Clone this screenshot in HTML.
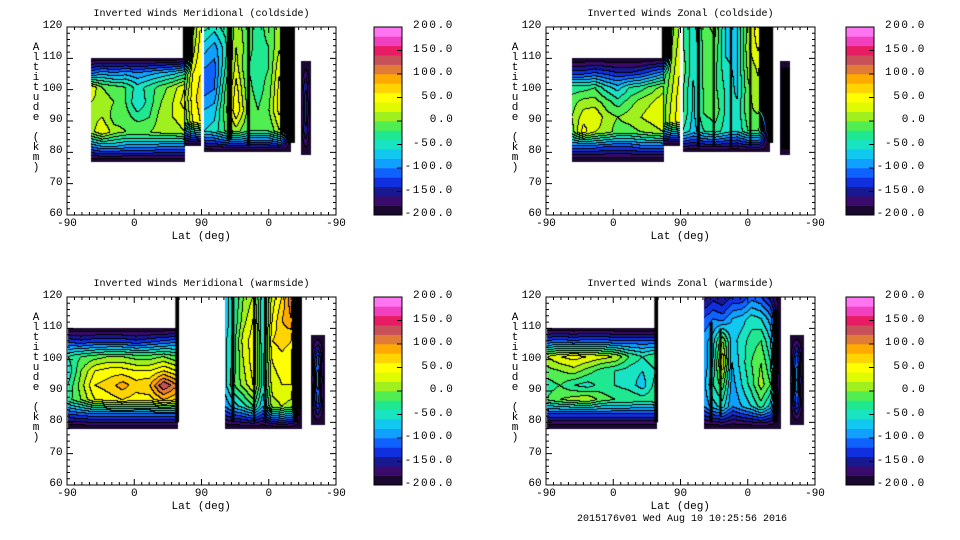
<!DOCTYPE html>
<html><head><meta charset="utf-8">
<style>
body{margin:0;background:#fff;width:960px;height:540px;overflow:hidden;position:relative;font-family:"Liberation Mono",monospace;color:#000}
.t{position:absolute;font-size:10px;white-space:pre;line-height:10px}
.lbl{position:absolute;font-size:11px;line-height:11px;white-space:pre}
canvas{position:absolute}
.ylab{position:absolute;font-size:11px;line-height:10px;width:10px;text-align:center;white-space:pre}
</style></head><body>
<script>
// ---- data ----
const levels = [-200,-180,-160,-140,-120,-100,-80,-60,-40,-20,0,20,40,60,80,100,120,140,160,180,200];
const colors = ["#1a0830","#3a0a6c","#181890","#1030e0","#1062ff","#10a0ff","#10c8f0","#18e4c4","#20e890","#50ee50","#a0f020","#e0fa00","#ffff00","#ffd400","#ffaa00","#e07c38","#c85058","#e81c64","#f040c0","#ff74f0"];
const cbLabels = ["200.0","150.0","100.0","50.0","0.0","-50.0","-100.0","-150.0","-200.0"];
const cbValues = [200,150,100,50,0,-50,-100,-150,-200];
const xTickLabels = ["-90","0","90","0","-90"];
const xTickValues = [0,90,180,270,360];
const yTickValues = [60,70,80,90,100,110,120];

// region bounds: [uStart,uEnd,altBottom,altTop]
const tlBoundsA=[32,158,77,110], tlBoundsB=[158,179,82,120], tlBoundsC=[183,300,80,120], tlBoundsD=[313,327,79,109];
const tlGridA=[
[-200,-200,-200,-200,-200,-200,-200,-200,-200],
[-110,-90,-100,-90,-100,-90,-80,-70,-50],
[40,0,-10,-20,-50,-30,-10,10,40],
[20,10,0,-20,-60,-30,0,20,50],
[10,20,-10,-10,-30,-20,10,20,30],
[10,40,10,0,0,0,10,10,20],
[-100,-80,-80,-90,-90,-90,-100,-100,-100],
[-200,-200,-200,-200,-200,-200,-200,-200,-200]];
const tlGridB=[[-200,-10,40],[-200,10,50],[-30,40,60],[0,50,70],[-20,40,60],[-200,-200,-200]];
const tlGridC=[
[-30,-50,-30,10,-10,-30,-10,10,-200],
[-70,-90,-50,20,-10,-30,-20,20,-200],
[-100,-110,-40,30,-20,-30,-20,40,-200],
[-110,-100,-20,50,-10,-30,-10,50,-200],
[-80,-70,-10,60,0,-20,0,50,-200],
[-60,-50,-20,10,-20,-20,-20,20,-200],
[-200,-200,-200,-200,-200,-200,-200,-200,-200]];
const tlGridD=[[-200,-200,-200],[-200,-140,-200],[-200,-120,-200],[-200,-140,-200],[-200,-200,-200]];
const tlBlack=[[155,169,110,120],[214,221,84,120],[241,245,82,120],[294,305,83,120]];

const trBoundsA=[35,158,77,110], trBoundsB=[158,179,82,120], trBoundsC=[183,300,80,120], trBoundsD=[313,327,79,109];
const trGridA=[
[-200,-200,-200,-200,-200,-200,-200,-200,-200],
[-130,-130,-120,-130,-140,-140,-130,-110,-90],
[-30,-30,-20,-50,-70,-40,-30,-10,10],
[-10,10,10,-10,-30,-10,10,20,40],
[0,30,40,10,0,10,20,30,40],
[-10,50,20,10,-10,-10,0,10,20],
[-110,-110,-110,-120,-120,-120,-110,-110,-110],
[-200,-200,-200,-200,-200,-200,-200,-200,-200]];
const trGridB=[[-200,-10,20],[-200,0,30],[-30,10,40],[-10,20,50],[-10,30,50],[-200,-200,-200]];
const trGridC=[
[-15,-55,-5,5,-65,-65,5,65,-200],
[-15,-55,-15,-5,-65,-65,15,45,-200],
[-5,-55,-15,-15,-55,-65,5,25,-200],
[-15,-65,-15,-15,-45,-65,-5,15,-200],
[-15,-65,-15,-5,-45,-55,-5,5,-200],
[-40,-70,-40,-30,-50,-60,-20,-20,-200],
[-200,-200,-200,-200,-200,-200,-200,-200,-200]];
const trGridD=[[-200,-200,-200],[-200,-200,-200],[-200,-200,-200],[-200,-200,-200],[-200,-200,-200]];
const trBlack=[[155,169,110,120],[202,206,82,120],[223,226,82,120],[246,249,82,120],[272,275,82,120],[297,304,83,120],[315,326,81,107]];

const blBoundsA=[1,148,78,110], blBoundsC=[211,314,78,120], blBoundsD=[327,345,79,108];
const blGridA=[
[-200,-200,-200,-200,-200,-200,-200,-200,-200],
[-120,-130,-120,-120,-120,-130,-120,-110,-100],
[-40,-20,-10,0,0,-10,-10,0,-20],
[-60,0,40,50,50,40,40,60,40],
[-40,10,60,70,90,70,80,140,100],
[-30,0,40,50,60,50,50,80,60],
[-120,-110,-100,-100,-100,-100,-100,-100,-100],
[-200,-200,-200,-200,-200,-200,-200,-200,-200]];
const blGridC=[
[-80,-40,0,20,-60,30,60,120,-200],
[-80,-40,10,40,-60,40,80,100,-200],
[-70,-30,30,50,-60,60,70,60,-200],
[-70,-30,20,50,-50,40,50,40,-200],
[-70,-20,10,40,-50,30,40,40,-200],
[-100,-70,-50,-20,-80,10,20,10,-200],
[-200,-200,-200,-200,-200,-200,-200,-200,-200]];
const blGridD=[[-200,-200,-200,-200,-200],[-200,-150,-110,-150,-200],[-200,-140,-80,-140,-200],[-200,-150,-110,-150,-200],[-200,-200,-200,-200,-200]];
const blBlack=[[145,150,80,120],[220,224,80,120],[249,252,80,120],[264,267,80,120],[303,309,80,120]];

const brBoundsA=[1,148,78,110], brBoundsC=[211,314,78,120], brBoundsD=[327,345,79,108];
const brGridA=[
[-200,-200,-200,-200,-200,-200,-200,-200,-200],
[-110,-100,-110,-100,-100,-110,-110,-110,-110],
[20,40,50,40,30,20,-20,-40,-20],
[-10,0,10,-10,-30,-40,-50,-60,-40],
[-30,-20,-40,-50,-30,-40,-50,-70,-30],
[-20,0,10,20,-10,-20,-20,-30,-20],
[-120,-120,-120,-120,-120,-120,-120,-120,-120],
[-200,-200,-200,-200,-200,-200,-200,-200,-200]];
const brGridC=[
[-170,-150,-160,-140,-140,-110,-120,-150,-200],
[-120,-100,-110,-80,-70,-50,-60,-90,-200],
[-90,-70,0,-70,-50,-30,-20,-60,-200],
[-100,-60,40,-80,-50,-20,0,-40,-200],
[-90,-40,-10,-90,-60,-30,10,-20,-200],
[-100,-70,-50,-100,-80,-60,-30,-70,-200],
[-200,-200,-200,-200,-200,-200,-200,-200,-200]];
const brGridD=[[-200,-200,-200,-200,-200],[-200,-150,-110,-150,-200],[-200,-140,-70,-140,-200],[-200,-150,-110,-150,-200],[-200,-200,-200,-200,-200]];
const brBlack=[[145,150,80,120],[219,223,80,112],[232,235,82,110],[304,310,80,116]];

const panels=[
 {name:"meridional-coldside",title:"Inverted Winds Meridional (coldside)",x:67,y:27,cbx:374,regions:[[tlBoundsA,tlGridA],[tlBoundsB,tlGridB],[tlBoundsC,tlGridC],[tlBoundsD,tlGridD]],black:tlBlack},
 {name:"zonal-coldside",title:"Inverted Winds Zonal (coldside)",x:546,y:27,cbx:846,regions:[[trBoundsA,trGridA],[trBoundsB,trGridB],[trBoundsC,trGridC],[trBoundsD,trGridD]],black:trBlack},
 {name:"meridional-warmside",title:"Inverted Winds Meridional (warmside)",x:67,y:297,cbx:374,regions:[[blBoundsA,blGridA],[blBoundsC,blGridC],[blBoundsD,blGridD]],black:blBlack},
 {name:"zonal-warmside",title:"Inverted Winds Zonal (warmside)",x:546,y:297,cbx:846,regions:[[brBoundsA,brGridA],[brBoundsC,brGridC],[brBoundsD,brGridD]],black:brBlack}
];
const W=269,H=188;
function xs(u){return u*W/360;}
function ys(a){return (120-a)*H/60;}
function uOf(px){return px*360/W;}
function aOf(py){return 120-py*60/H;}
function levelIdx(v){let i=Math.floor((v+200)/20);return Math.max(0,Math.min(19,i));}
function hex(c){return [parseInt(c.substr(1,2),16),parseInt(c.substr(3,2),16),parseInt(c.substr(5,2),16)];}
const rgb=colors.map(hex);

panels.forEach(p=>{
  const d=document.createElement('div');
  d.style.cssText='position:absolute;left:0;top:0';
  
  
  document.body.appendChild(d);
  const t=document.createElement('div');t.className='t';t.textContent=p.title;
  t.style.left=(p.x+W/2-p.title.length*3)+'px';t.style.top=(p.y-17)+'px';
  
  
  d.appendChild(t);
  const cv=document.createElement('canvas');cv.width=W;cv.height=H;
  cv.style.left=p.x+'px';cv.style.top=p.y+'px';
  
  
  d.appendChild(cv);
  const ctx=cv.getContext('2d');
  const lv=new Int16Array(W*H).fill(-1);
  p.regions.forEach(([b,g])=>{
    const nr=g.length,nc=g[0].length;
    for(let py=0;py<H;py++){const a=aOf(py+0.5);if(a<b[2]||a>b[3])continue;
      const fy=(b[3]-a)/(b[3]-b[2])*(nr-1);const r0=Math.min(nr-2,Math.floor(fy)),ty=fy-r0;
      for(let px=0;px<W;px++){const u=uOf(px+0.5);if(u<b[0]||u>b[1])continue;
        const fx=(u-b[0])/(b[1]-b[0])*(nc-1);const c0=Math.min(nc-2,Math.floor(fx)),tx=fx-c0;
        const v=(g[r0][c0]*(1-tx)+g[r0][c0+1]*tx)*(1-ty)+(g[r0+1][c0]*(1-tx)+g[r0+1][c0+1]*tx)*ty;
        lv[py*W+px]=levelIdx(v);}}
  });
  const img=ctx.createImageData(W,H);
  for(let i=0;i<W*H;i++){const L=lv[i];let c=[255,255,255];
    if(L>=0){c=rgb[L];const x=i%W,y=(i/W)|0;
      const rt=x<W-1?lv[i+1]:L, dn=y<H-1?lv[i+W]:L;
      if((rt>=0&&rt!==L)||(dn>=0&&dn!==L))c=[0,0,0];}
    img.data[i*4]=c[0];img.data[i*4+1]=c[1];img.data[i*4+2]=c[2];img.data[i*4+3]=255;}
  ctx.putImageData(img,0,0);
  ctx.fillStyle='#000';
  p.black.forEach(s=>{ctx.fillRect(xs(s[0]),ys(s[3]),xs(s[1])-xs(s[0]),ys(s[2])-ys(s[3]));});
  const ns='http://www.w3.org/2000/svg';
  const sv=document.createElementNS(ns,'svg');
  sv.setAttribute('width',W+2);sv.setAttribute('height',H+2);
  sv.style.cssText='position:absolute;left:'+(p.x-1)+'px;top:'+(p.y-1)+'px;overflow:visible';
  
  
  d.appendChild(sv);
  let path='M1 1H'+(W+1)+'V'+(H+1)+'H1Z';
  for(let u=0;u<=360;u+=10){const x=xs(u)+1,len=(u%90===0)?6:3;path+='M'+x+' '+(H+1)+'v-'+len+'M'+x+' 1v'+len;}
  for(let a=60;a<=120;a+=2){const y=ys(a)+1,len=(a%10===0)?6:3;path+='M1 '+y+'h'+len+'M'+(W+1)+' '+y+'h-'+len;}
  const pe=document.createElementNS(ns,'path');pe.setAttribute('d',path);pe.setAttribute('stroke','#000');pe.setAttribute('fill','none');pe.setAttribute('stroke-width','1');
  
  
  sv.appendChild(pe);
  xTickLabels.forEach((s,i)=>{const l=document.createElement('div');l.className='lbl';l.textContent=s;
    l.style.left=(p.x+xs(xTickValues[i])-s.length*3.3)+'px';l.style.top=(p.y+H+4)+'px';
    
    
    d.appendChild(l);});
  yTickValues.forEach(v=>{const l=document.createElement('div');l.className='lbl';const s=String(v);l.textContent=s;
    l.style.left=(p.x-4-s.length*6.8)+'px';l.style.top=(p.y+ys(v)-6)+'px';
    
    
    d.appendChild(l);});
  const xl=document.createElement('div');xl.className='lbl';xl.textContent='Lat (deg)';
  xl.style.left=(p.x+W/2-30)+'px';xl.style.top=(p.y+H+17)+'px';
  
  
  d.appendChild(xl);
  const yl=document.createElement('div');yl.className='ylab';yl.innerHTML='A<br>l<br>t<br>i<br>t<br>u<br>d<br>e<br>&nbsp;<br>(<br>k<br>m<br>)';
  yl.style.left=(p.x-36)+'px';yl.style.top=(p.y+16)+'px';
  
  
  d.appendChild(yl);
  const cb=document.createElementNS(ns,'svg');cb.setAttribute('width',30);cb.setAttribute('height',H+2);
  cb.style.cssText='position:absolute;left:'+(p.cbx-1)+'px;top:'+(p.y-1)+'px';
  
  
  d.appendChild(cb);
  const bh=H/colors.length;
  colors.forEach((c,i)=>{const r=document.createElementNS(ns,'rect');r.setAttribute('x',1);r.setAttribute('y',1+H-(i+1)*bh);r.setAttribute('width',28);r.setAttribute('height',bh+0.3);r.setAttribute('fill',c);
    
    
    cb.appendChild(r);});
  let cp='M1 1h28v'+H+'h-28Z';
  cbValues.forEach(v=>{const y=1+(200-v)/400*H;cp+='M29 '+y+'h-5';});
  const cpe=document.createElementNS(ns,'path');cpe.setAttribute('d',cp);cpe.setAttribute('stroke','#000');cpe.setAttribute('fill','none');
  
  
  cb.appendChild(cpe);
  cbLabels.forEach((s,i)=>{const l=document.createElement('div');l.className='lbl';l.textContent=s;
    l.style.letterSpacing='1.6px';
    l.style.left=(p.cbx+81-s.length*8.4)+'px';l.style.top=(p.y+(200-cbValues[i])/400*H-6)+'px';
    
    
    d.appendChild(l);});
});
</script>
<div class="t" style="left:577px;top:515px">2015176v01 Wed Aug 10 10:25:56 2016</div>
</body></html>
